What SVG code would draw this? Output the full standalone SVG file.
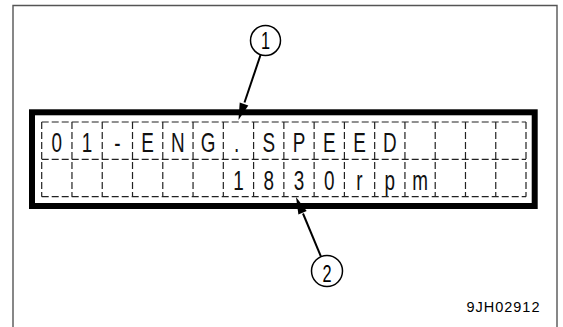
<svg xmlns="http://www.w3.org/2000/svg" width="563" height="327" viewBox="0 0 563 327">
  <style>
    .frame { fill: none; stroke: #555; stroke-width: 1.4; }
    .bezel { fill: #fff; stroke: #000; stroke-width: 6; }
    .grid { fill: none; stroke: #222; stroke-width: 1.2; stroke-dasharray: 7 3; }
    .ch { font-family: "Liberation Sans", Arial, sans-serif; font-size: 27px; fill: #111; text-anchor: middle; }
    .num { font-family: "Liberation Sans", Arial, sans-serif; font-size: 24px; fill: #000; text-anchor: middle; }
    .callout { fill: #fff; stroke: #000; stroke-width: 1.5; }
    .lead { fill: none; stroke: #000; stroke-width: 2; }
    .head { fill: #000; stroke: none; }
    .code { font-family: "Liberation Sans", Arial, sans-serif; font-size: 14.5px; fill: #000; }
  </style>

  <path class="frame" d="M13,327 V5.5 H557 V327"/>

  <g id="display">
    <rect class="bezel" x="32" y="112.3" width="502.7" height="93.7"/>
    <g id="grid" class="grid">
      <path d="M41.7,122 H526 M41.7,159.3 H526 M41.7,196.7 H526"/>
      <path d="M41.7,122 V196.7 M71.97,122 V196.7 M102.24,122 V196.7 M132.51,122 V196.7 M162.78,122 V196.7 M193.05,122 V196.7 M223.32,122 V196.7 M253.59,122 V196.7 M283.86,122 V196.7 M314.13,122 V196.7 M344.4,122 V196.7 M374.67,122 V196.7 M404.94,122 V196.7 M435.21,122 V196.7 M465.48,122 V196.7 M495.75,122 V196.7 M526,122 V196.7"/>
    </g>
    <g id="row1">
      <text class="ch" transform="translate(56.8,152.3) scale(0.7,1)">0</text>
      <text class="ch" transform="translate(87.1,152.3) scale(0.7,1)">1</text>
      <text class="ch" transform="translate(117.3,152.3) scale(0.7,1)">-</text>
      <text class="ch" transform="translate(147.6,152.3) scale(0.7,1)">E</text>
      <text class="ch" transform="translate(177.9,152.3) scale(0.7,1)">N</text>
      <text class="ch" transform="translate(208.2,152.3) scale(0.7,1)">G</text>
      <text class="ch" transform="translate(236.5,152.3) scale(0.7,1)">.</text>
      <text class="ch" transform="translate(268.7,152.3) scale(0.7,1)">S</text>
      <text class="ch" transform="translate(299,152.3) scale(0.7,1)">P</text>
      <text class="ch" transform="translate(329.2,152.3) scale(0.7,1)">E</text>
      <text class="ch" transform="translate(359.5,152.3) scale(0.7,1)">E</text>
      <text class="ch" transform="translate(389.8,152.3) scale(0.7,1)">D</text>
    </g>
    <g id="row2">
      <text class="ch" transform="translate(238.4,189.8) scale(0.7,1)">1</text>
      <text class="ch" transform="translate(268.7,189.8) scale(0.7,1)">8</text>
      <text class="ch" transform="translate(299,189.8) scale(0.7,1)">3</text>
      <text class="ch" transform="translate(329.2,189.8) scale(0.7,1)">0</text>
      <text class="ch" transform="translate(359.5,189.8) scale(0.7,1)">r</text>
      <text class="ch" transform="translate(389.8,189.8) scale(0.7,1)">p</text>
      <text class="ch" transform="translate(420,189.8) scale(0.7,1)">m</text>
    </g>
  </g>

  <g id="connectors">
    <line class="lead" x1="260.6" y1="54.7" x2="244.5" y2="102.5"/>
    <polygon class="head" points="238.5,120 248.3,105.4 239.7,102.4"/>
    <line class="lead" x1="321" y1="256.7" x2="303" y2="213.5"/>
    <polygon class="head" points="296,197 306.7,211 298.4,214.4"/>
  </g>

  <g id="callout1">
    <circle class="callout" cx="265.5" cy="40.5" r="15"/>
    <text class="num" transform="translate(265.5,49.2) scale(0.68,1)">1</text>
  </g>
  <g id="callout2">
    <circle class="callout" cx="327" cy="271" r="15.5"/>
    <text class="num" transform="translate(327,281.8) scale(0.68,1)">2</text>
  </g>

  <text id="code" class="code" x="466.5" y="312.3" textLength="73" lengthAdjust="spacing">9JH02912</text>
</svg>
